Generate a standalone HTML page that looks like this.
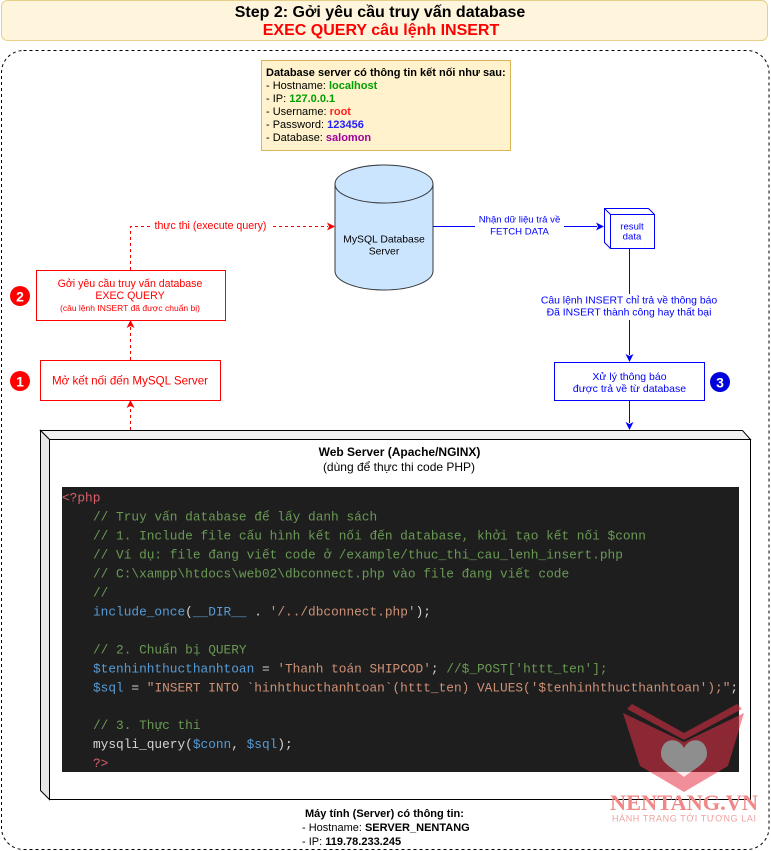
<!DOCTYPE html>
<html><head><meta charset="utf-8"><style>
html,body{margin:0;padding:0;background:#fff;}
svg{display:block;font-family:"Liberation Sans",Arial,sans-serif;}
.mono{font-family:"Liberation Mono","DejaVu Sans Mono",monospace;font-size:12.8px;}
</style></head><body>
<svg width="771" height="851" viewBox="0 0 771 851" xmlns="http://www.w3.org/2000/svg">
<defs>
<clipPath id="codeclip"><rect x="62" y="487" width="677" height="285"/></clipPath>
<clipPath id="belowclip"><rect x="0" y="772" width="771" height="79"/></clipPath>
</defs>
<!-- title -->
<rect x="1.5" y="0.5" width="766" height="40" rx="6" fill="#fff5dc" stroke="#e6cf86" stroke-width="1"/>
<text x="380" y="12.5" text-anchor="middle" dominant-baseline="central" font-size="16" font-weight="bold" fill="#000">Step 2: Gởi yêu cầu truy vấn database</text>
<text x="381" y="30.5" text-anchor="middle" dominant-baseline="central" font-size="16" font-weight="bold" fill="#ff0000">EXEC QUERY câu lệnh INSERT</text>
<!-- dashed container -->
<rect x="1.5" y="50.5" width="767.5" height="799" rx="22" fill="none" stroke="#000" stroke-dasharray="3 3" stroke-width="1"/>
<!-- info box -->
<rect x="261.5" y="60.5" width="249" height="90" fill="#fff2cc" stroke="#d6b656"/>
<g font-size="11" dominant-baseline="central">
<text x="266" y="73" font-weight="bold">Database server có thông tin kết nối như sau:</text>
<text x="266" y="86">- Hostname: <tspan font-weight="bold" fill="#00a000">localhost</tspan></text>
<text x="266" y="99">- IP: <tspan font-weight="bold" fill="#00a000">127.0.0.1</tspan></text>
<text x="266" y="112">- Username: <tspan font-weight="bold" fill="#ff2020">root</tspan></text>
<text x="266" y="125">- Password: <tspan font-weight="bold" fill="#2020ff">123456</tspan></text>
<text x="266" y="138">- Database: <tspan font-weight="bold" fill="#a000a0">salomon</tspan></text>
</g>
<!-- cylinder -->
<path d="M335,184 A49,19 0 0 1 433,184 L433,271 A49,19 0 0 1 335,271 Z" fill="#cce5ff" stroke="#36393d" stroke-width="1"/>
<path d="M335,184 A49,19 0 0 0 433,184" fill="none" stroke="#36393d" stroke-width="1"/>
<text x="384" y="240" text-anchor="middle" dominant-baseline="central" font-size="10.4">MySQL Database</text>
<text x="384" y="252" text-anchor="middle" dominant-baseline="central" font-size="10.4">Server</text>
<!-- red dashed connectors -->
<g stroke="#ff0000" stroke-dasharray="3 3" fill="none" stroke-width="1">
<path d="M130.5,270 L130.5,226.5 L328,226.5"/>
<path d="M130.5,360 L130.5,327"/>
<path d="M130.5,430 L130.5,407"/>
</g>
<g fill="#ff0000">
<polygon points="335,226.5 327,222.5 329,226.5 327,230.5"/>
<polygon points="130.5,320 126.5,328 130.5,326 134.5,328"/>
<polygon points="130.5,400 126.5,408 130.5,406 134.5,408"/>
</g>
<rect x="150" y="219" width="121" height="14" fill="#fff"/>
<text x="210.5" y="226" text-anchor="middle" dominant-baseline="central" font-size="10.6" fill="#ff0000">thực thi (execute query)</text>
<!-- box 2 -->
<rect x="36.5" y="270.5" width="189" height="50" fill="#fff" stroke="#ff0000"/>
<text x="130" y="284" text-anchor="middle" dominant-baseline="central" font-size="10.6" fill="#ff0000">Gởi yêu cầu truy vấn database</text>
<text x="130" y="296" text-anchor="middle" dominant-baseline="central" font-size="10.6" fill="#ff0000">EXEC QUERY</text>
<text x="130" y="308" text-anchor="middle" dominant-baseline="central" font-size="8.5" fill="#ff0000">(câu lệnh INSERT đã được chuẩn bị)</text>
<circle cx="20" cy="296" r="10" fill="#ff0000"/>
<text x="20" y="296.5" text-anchor="middle" dominant-baseline="central" font-size="14" font-weight="bold" fill="#fff">2</text>
<!-- box 1 -->
<rect x="40.5" y="360.5" width="180" height="40" fill="#fff" stroke="#ff0000"/>
<text x="130" y="381" text-anchor="middle" dominant-baseline="central" font-size="11.6" fill="#ff0000">Mở kết nối đến MySQL Server</text>
<circle cx="20" cy="381" r="10" fill="#ff0000"/>
<text x="20" y="381.5" text-anchor="middle" dominant-baseline="central" font-size="14" font-weight="bold" fill="#fff">1</text>
<!-- blue connectors -->
<g stroke="#0000ff" fill="none" stroke-width="1">
<path d="M433,226.5 L597,226.5"/>
<path d="M629.5,248 L629.5,355"/>
<path d="M629.5,400 L629.5,423"/>
</g>
<g fill="#0000ff">
<polygon points="604,226.5 596,222.5 598,226.5 596,230.5"/>
<polygon points="629.5,362 625.5,354 629.5,356 633.5,354"/>
<polygon points="629.5,430 625.5,422 629.5,424 633.5,422"/>
</g>
<rect x="475" y="213" width="89" height="25" fill="#fff"/>
<text x="519.5" y="220" text-anchor="middle" dominant-baseline="central" font-size="9.6" fill="#0000ff">Nhận dữ liệu trả về</text>
<text x="519.5" y="232" text-anchor="middle" dominant-baseline="central" font-size="9.6" fill="#0000ff">FETCH DATA</text>
<!-- result data cube -->
<g stroke="#0000ff" fill="#fff" stroke-width="1">
<polygon points="604.5,208.5 648.5,208.5 654.5,214.5 654.5,248.5 610.5,248.5 604.5,242.5"/>
<path d="M604.5,208.5 L610.5,214.5 L654.5,214.5 M610.5,214.5 L610.5,248.5" fill="none"/>
</g>
<text x="632" y="227" text-anchor="middle" dominant-baseline="central" font-size="9.6" fill="#0000ff">result</text>
<text x="632" y="237" text-anchor="middle" dominant-baseline="central" font-size="9.6" fill="#0000ff">data</text>
<rect x="536" y="294" width="187" height="26" fill="#fff"/>
<text x="629" y="301" text-anchor="middle" dominant-baseline="central" font-size="10.4" fill="#0000ff">Câu lệnh INSERT chỉ trả về thông báo</text>
<text x="629" y="313" text-anchor="middle" dominant-baseline="central" font-size="10.4" fill="#0000ff">Đã INSERT thành công hay thất bại</text>
<!-- box 3 -->
<rect x="554.5" y="362.5" width="150" height="38" fill="#fff" stroke="#0000ff"/>
<text x="629.5" y="377" text-anchor="middle" dominant-baseline="central" font-size="10.5" fill="#0000ff">Xử lý thông báo</text>
<text x="629.5" y="389" text-anchor="middle" dominant-baseline="central" font-size="10.5" fill="#0000ff">được trả về từ database</text>
<circle cx="720" cy="382" r="10" fill="#0000dd"/>
<text x="720" y="382.5" text-anchor="middle" dominant-baseline="central" font-size="14" font-weight="bold" fill="#fff">3</text>
<!-- web server cube -->
<polygon points="40.5,430.5 742.5,430.5 750.5,439.5 49.5,439.5" fill="#f0f0f0" stroke="#000"/>
<polygon points="40.5,430.5 49.5,439.5 49.5,799.5 40.5,790.5" fill="#e6e6e6" stroke="#000"/>
<rect x="49.5" y="439.5" width="701" height="360" fill="#fff" stroke="#000"/>
<text x="399.5" y="452" text-anchor="middle" dominant-baseline="central" font-size="12" font-weight="bold">Web Server (Apache/NGINX)</text>
<text x="399" y="467" text-anchor="middle" dominant-baseline="central" font-size="12">(dùng để thực thi code PHP)</text>
<!-- code -->
<rect x="62" y="487" width="677" height="285" fill="#1e1e1e"/>
<g class="mono" xml:space="preserve">
<text x="62" y="501.5" fill="#d9606b">&lt;?php</text>
<text x="93" y="520.5" fill="#6a9955">// Truy vấn database để lấy danh sách</text>
<text x="93" y="539.5" fill="#6a9955">// 1. Include file cấu hình kết nối đến database, khởi tạo kết nối $conn</text>
<text x="93" y="558.5" fill="#6a9955">// Ví dụ: file đang viết code ở /example/thuc_thi_cau_lenh_insert.php</text>
<text x="93" y="577.5" fill="#6a9955">// C:\xampp\htdocs\web02\dbconnect.php vào file đang viết code</text>
<text x="93" y="596.5" fill="#6a9955">//</text>
<text x="93" y="615.5" fill="#d4d4d4"><tspan fill="#569cd6">include_once</tspan>(<tspan fill="#569cd6">__DIR__</tspan> . <tspan fill="#ce9178">'/../dbconnect.php'</tspan>);</text>
<text x="93" y="653.5" fill="#6a9955">// 2. Chuẩn bị QUERY</text>
<text x="93" y="672.5" fill="#d4d4d4"><tspan fill="#569cd6">$tenhinhthucthanhtoan</tspan> = <tspan fill="#ce9178">'Thanh toán SHIPCOD'</tspan>; <tspan fill="#6a9955">//$_POST['httt_ten'];</tspan></text>
<text x="93" y="691.5" fill="#d4d4d4"><tspan fill="#569cd6">$sql</tspan> = <tspan fill="#ce9178">"INSERT INTO `hinhthucthanhtoan`(httt_ten) VALUES('$tenhinhthucthanhtoan');"</tspan>;</text>
<text x="93" y="729" fill="#6a9955">// 3. Thực thi</text>
<text x="93" y="748" fill="#d4d4d4">mysqli_query(<tspan fill="#569cd6">$conn</tspan>, <tspan fill="#569cd6">$sql</tspan>);</text>
<text x="93" y="767" fill="#d9606b">?&gt;</text>
</g>
<!-- watermark -->
<g fill="#e63246" fill-opacity="0.55">
<polygon points="623,713 684,742 684,792 640,766"/>
<polygon points="744,713 684,742 684,792 728,766"/>
<polygon points="632,704 684,733 684,740 627,709"/>
<polygon points="737,704 684,733 684,740 742,709"/>
</g>
<path d="M684,748 C678,736 661,738 661,754 C661,764 676,770 684,777 C692,770 707,764 707,754 C707,738 690,736 684,748 Z" fill="#8e8e8e" clip-path="url(#codeclip)"/>
<path d="M684,748 C678,736 661,738 661,754 C661,764 676,770 684,777 C692,770 707,764 707,754 C707,738 690,736 684,748 Z" fill="#fbecee" clip-path="url(#belowclip)"/>
<text x="610" y="810" font-family="'Liberation Serif',serif" font-size="22" font-weight="bold" fill="#f08888" textLength="148" lengthAdjust="spacingAndGlyphs">NENTANG.VN</text>
<text x="612" y="821.5" font-size="9" fill="#f0a0a0" textLength="144" lengthAdjust="spacing">HÀNH TRANG TỚI TƯƠNG LAI</text>
<!-- bottom info -->
<g font-size="11" dominant-baseline="central">
<text x="305" y="814" font-weight="bold">Máy tính (Server) có thông tin:</text>
<text x="302" y="828">- Hostname: <tspan font-weight="bold">SERVER_NENTANG</tspan></text>
<text x="302" y="842">- IP: <tspan font-weight="bold">119.78.233.245</tspan></text>
</g>
</svg>
</body></html>
